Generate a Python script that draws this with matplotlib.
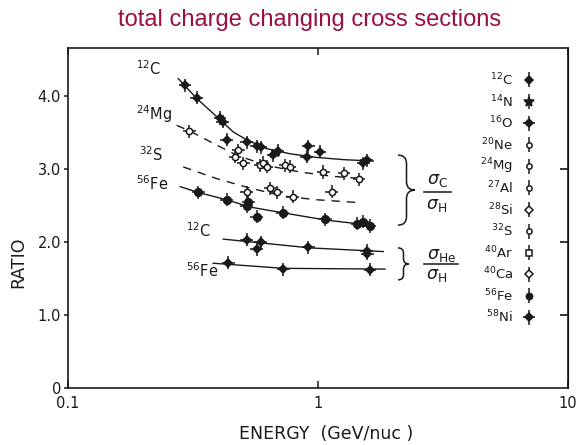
import numpy as np
import matplotlib.pyplot as plt
from matplotlib.path import Path
from matplotlib.patches import PathPatch

# ---- data ----
# 12C / H  (upper, sigma_C/sigma_H)
c12_e = [0.294, 0.327, 0.406, 0.416, 0.431, 0.519, 0.569, 0.590, 0.663, 0.690, 0.901, 0.915, 1.020, 1.518, 1.566]
c12_r = [4.15, 3.98, 3.70, 3.65, 3.40, 3.37, 3.31, 3.30, 3.19, 3.25, 3.17, 3.31, 3.24, 3.08, 3.12]
c12_fit_e = [0.276, 0.327, 0.393, 0.458, 0.519, 0.624, 0.773, 0.988, 1.263, 1.665]
c12_fit_r = [4.24, 3.97, 3.72, 3.51, 3.40, 3.28, 3.21, 3.16, 3.13, 3.11]

# 24Mg group (open symbols)
mg_e = [0.306, 0.465, 0.480, 0.503, 0.586, 0.600, 0.624, 0.738, 0.773, 1.050, 1.270, 1.460]
mg_r = [3.52, 3.17, 3.26, 3.08, 3.05, 3.09, 3.03, 3.05, 3.03, 2.96, 2.94, 2.86]
mg_fit_e = [0.272, 0.308, 0.393, 0.473, 0.624, 0.847, 1.152, 1.518]
mg_fit_r = [3.60, 3.52, 3.33, 3.19, 3.05, 2.96, 2.90, 2.87]

# 32S group (open symbols)
s_e = [0.519, 0.643, 0.683, 0.792, 1.134]
s_r = [2.68, 2.74, 2.68, 2.62, 2.69]
s_fit_e = [0.289, 0.393, 0.535, 0.727, 0.988, 1.472]
s_fit_r = [3.03, 2.87, 2.74, 2.63, 2.58, 2.54]

# 56Fe / H
fe_e = [0.332, 0.431, 0.519, 0.526, 0.569, 0.722, 1.070, 1.430, 1.520, 1.610]
fe_r = [2.68, 2.58, 2.49, 2.55, 2.35, 2.40, 2.31, 2.25, 2.28, 2.22]
fe_fit_e = [0.281, 0.332, 0.431, 0.535, 0.727, 1.083, 1.640]
fe_fit_r = [2.76, 2.68, 2.58, 2.48, 2.40, 2.30, 2.23]

# 12C / He  (sigma_He/sigma_H)
che_e = [0.519, 0.569, 0.590, 0.915, 1.566, 1.575]
che_r = [2.03, 1.90, 2.00, 1.93, 1.88, 1.84]
che_fit_e = [0.418, 0.586, 0.929, 1.825]
che_fit_r = [2.04, 1.99, 1.92, 1.87]

# 56Fe / He
fehe_e = [0.438, 0.727, 1.614]
fehe_r = [1.72, 1.63, 1.62]
fehe_fit_e = [0.381, 0.727, 1.853]
fehe_fit_r = [1.71, 1.64, 1.63]

err_y = 0.09
err_x = 0.03

key_labels = ['$^{12}$C', '$^{14}$N', '$^{16}$O', '$^{20}$Ne', '$^{24}$Mg', '$^{27}$Al',
              '$^{28}$Si', '$^{32}$S', '$^{40}$Ar', '$^{40}$Ca', '$^{56}$Fe', '$^{58}$Ni']
key_marker = ['D', '*', 'D', 'o', 'o', 'o', 'D', 'o', 's', 'D', 'o', 'D']
key_filled = [True, True, True, False, False, False, False, False, False, False, True, True]

ink = '#1a1a1a'
plt.rcParams['font.family'] = ['DejaVu Sans']


def points(ax, x, y, marker, filled, ms=5.0):
    x = np.asarray(x)
    xerr = [x - x / (1 + err_x * 2), x * (1 + err_x * 2) - x]
    ax.errorbar(x, y, yerr=err_y, xerr=xerr, fmt=marker, ms=ms,
                mfc=ink if filled else 'white', mec=ink, mew=1.1,
                ecolor=ink, elinewidth=1.1, capsize=0, zorder=3)


def brace(ax, x0, x1, ytop, ybot, lw=1.1):
    # curly brace opening to the left, tip at the right (axes fraction)
    xm = (x0 + x1) / 2
    ym = (ytop + ybot) / 2
    r = min(0.025, (ytop - ybot) / 6)
    verts = [(x0, ytop), (xm, ytop), (xm, ytop - r),
             (xm, ym + r), (xm, ym), (x1, ym),
             (xm, ym), (xm, ym - r),
             (xm, ybot + r), (xm, ybot), (x0, ybot)]
    codes = [Path.MOVETO, Path.CURVE3, Path.CURVE3,
             Path.LINETO, Path.CURVE3, Path.CURVE3,
             Path.CURVE3, Path.CURVE3,
             Path.LINETO, Path.CURVE3, Path.CURVE3]
    ax.add_patch(PathPatch(Path(verts, codes), fc='none', ec=ink, lw=lw,
                           transform=ax.transAxes, clip_on=False))


fig = plt.figure(figsize=(5.8, 4.45), dpi=100)
ax = fig.add_axes([68 / 580, 57 / 445, 500 / 580, 340 / 445])
ax.set_xscale('log')
ax.set_xlim(0.1, 10)
ax.set_ylim(0, 4.66)

# fitted curves
ax.plot(c12_fit_e, c12_fit_r, '-', color=ink, lw=1.0)
ax.plot(mg_fit_e, mg_fit_r, '--', color=ink, lw=1.0, dashes=(6, 5))
ax.plot(s_fit_e, s_fit_r, '--', color=ink, lw=1.0, dashes=(6, 5))
ax.plot(fe_fit_e, fe_fit_r, '-', color=ink, lw=1.0)
ax.plot(che_fit_e, che_fit_r, '-', color=ink, lw=1.0)
ax.plot(fehe_fit_e, fehe_fit_r, '-', color=ink, lw=1.0)

# measurements
points(ax, c12_e, c12_r, 'D', True, ms=4.5)
points(ax, mg_e, mg_r, 'o', False, ms=4.5)
points(ax, s_e, s_r, 'o', False, ms=4.5)
points(ax, fe_e, fe_r, 'o', True, ms=5.5)
points(ax, che_e, che_r, 'D', True, ms=4.5)
points(ax, fehe_e, fehe_r, 'D', True, ms=4.5)

# curve labels
lab = dict(fontsize=10.5, color=ink, transform=ax.transAxes, va='center')
ax.text(0.136, 0.94, '$^{12}$C', **lab)
ax.text(0.136, 0.805, '$^{24}$Mg', **lab)
ax.text(0.142, 0.685, '$^{32}$S', **lab)
ax.text(0.135, 0.60, '$^{56}$Fe', **lab)
ax.text(0.235, 0.464, '$^{12}$C', **lab)
ax.text(0.235, 0.345, '$^{56}$Fe', **lab)

# ratio braces
brace(ax, 0.66, 0.694, 0.685, 0.479)
brace(ax, 0.66, 0.682, 0.412, 0.318)
frac = dict(fontsize=12.5, color=ink, transform=ax.transAxes, ha='center', va='center')
ax.text(0.738, 0.612, r'$\sigma_{\mathrm{C}}$', **frac)
ax.plot([0.712, 0.766], [0.576, 0.576], color=ink, lw=1.1, transform=ax.transAxes)
ax.text(0.738, 0.538, r'$\sigma_{\mathrm{H}}$', **frac)
ax.text(0.746, 0.392, r'$\sigma_{\mathrm{He}}$', **frac)
ax.plot([0.712, 0.78], [0.366, 0.366], color=ink, lw=1.1, transform=ax.transAxes)
ax.text(0.738, 0.332, r'$\sigma_{\mathrm{H}}$', **frac)

# symbol key
for i, (name, m, f) in enumerate(zip(key_labels, key_marker, key_filled)):
    yk = 0.906 - i * 0.0635
    ax.text(0.89, yk, name, fontsize=9.5, color=ink, ha='right', va='center',
            transform=ax.transAxes)
    ms = 7.5 if m == '*' else (4.5 if f else 3.8)
    ax.errorbar([0.922], [yk], yerr=0.022, xerr=0.012 if i in (2, 11) else None,
                fmt=m, ms=ms, mfc=ink if f else 'white', mec=ink, mew=1.1,
                ecolor=ink, elinewidth=1.1, capsize=0, transform=ax.transAxes)

# axes styling
for s in ax.spines.values():
    s.set_linewidth(1.2)
    s.set_color(ink)
ax.set_xticks([0.1, 1, 10])
ax.set_xticklabels(['0.1', '1', '10'])
ax.minorticks_off()
ax.tick_params(axis='x', which='major', direction='in', top=True, length=5,
               width=1.1, labelsize=10.5, pad=6, colors=ink)
ax.set_yticks([0, 1, 2, 3, 4])
ax.set_yticklabels(['0', '1.0', '2.0', '3.0', '4.0'])
ax.tick_params(axis='y', direction='out', length=3, width=1.1, labelsize=10.5,
               pad=2, colors=ink)
ax2 = ax.secondary_yaxis('right')
ax2.set_yticks([1, 2, 3])
ax2.tick_params(direction='in', length=6, width=1.1, labelright=False)

ax.text(-0.10, 0.37, 'RATIO', rotation=90, fontsize=12.5, color=ink,
        ha='center', va='center', transform=ax.transAxes)
ax.text(0.516, -0.135, 'ENERGY  (GeV/nuc )', fontsize=12.5, color=ink,
        ha='center', va='center', transform=ax.transAxes)

fig.text(310 / 580, 1 - 20 / 445, 'total charge changing cross sections',
         ha='center', va='center', color='#9c0f3f', fontsize=17,
         family='Liberation Sans')

fig.savefig('out.png', dpi=100)
